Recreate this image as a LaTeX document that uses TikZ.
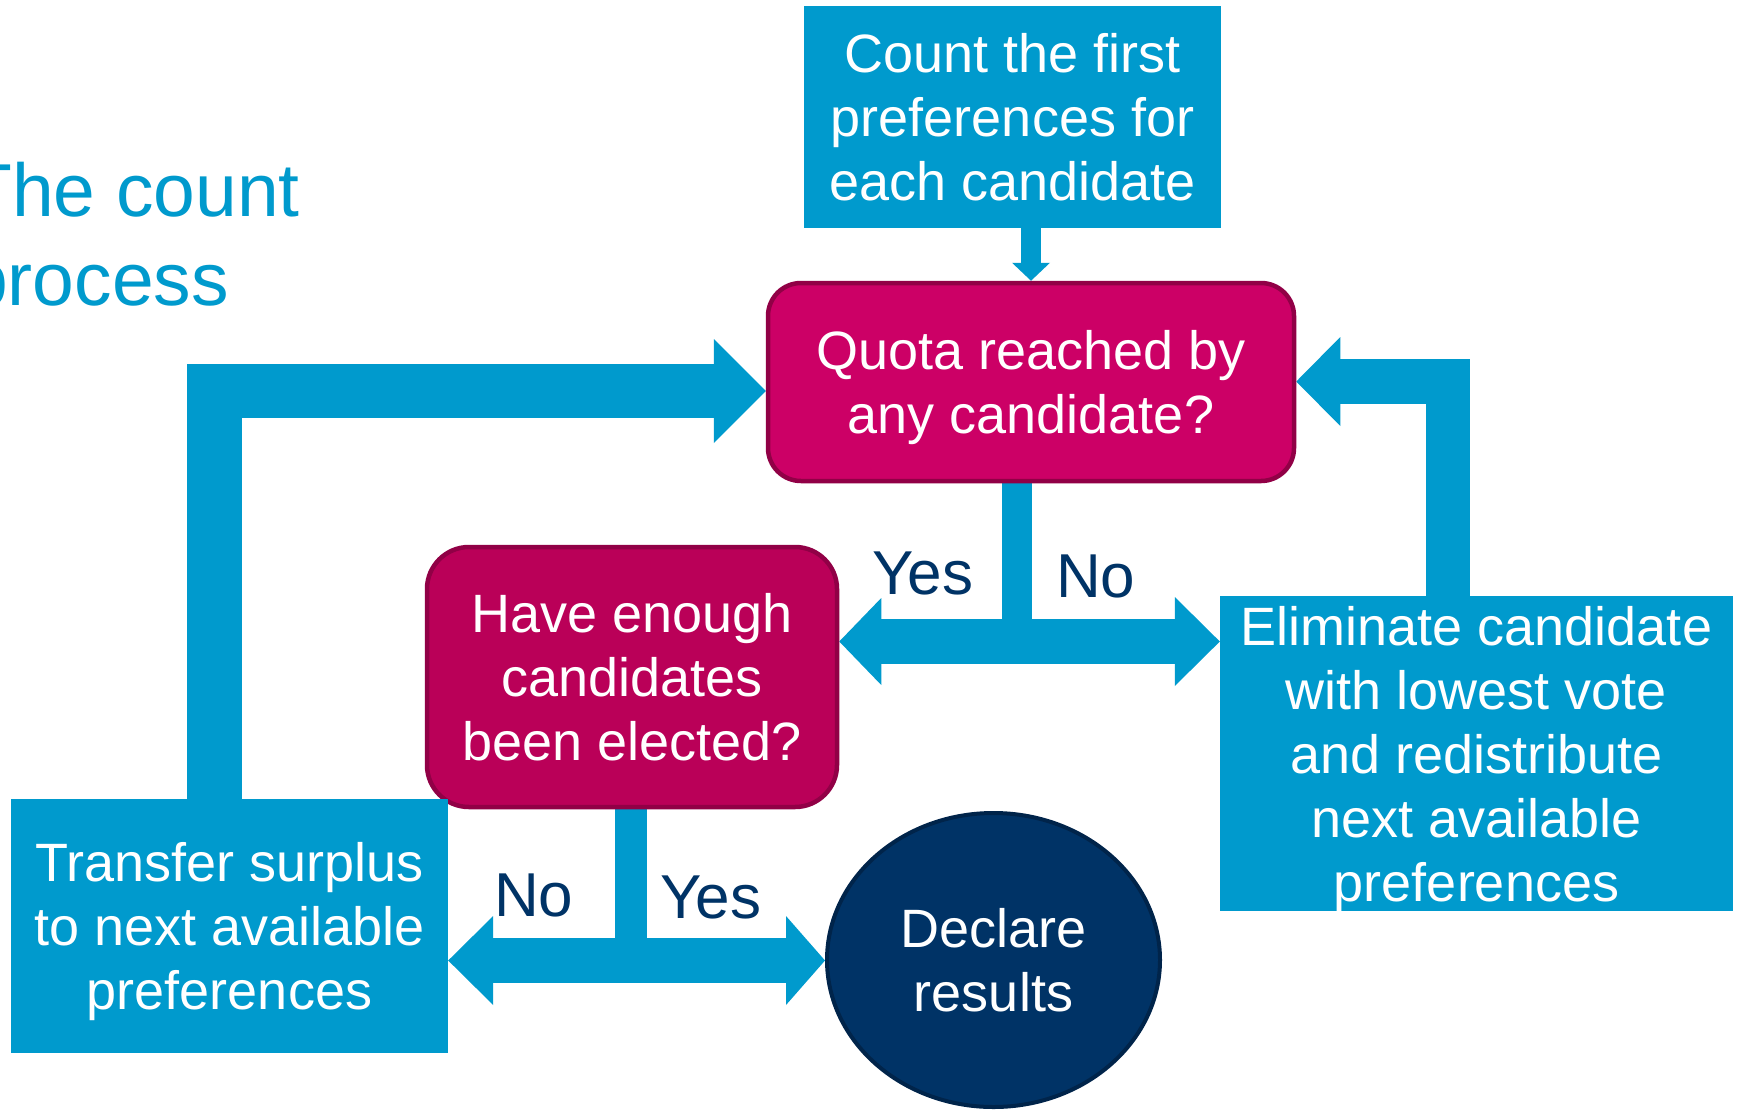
\documentclass[tikz,border=0pt]{standalone}
\usepackage{fontspec}
\setmainfont{Liberation Sans}
\usetikzlibrary{shapes.geometric,calc}
\pgfdeclarelayer{background}
\pgfsetlayers{background,main}
\definecolor{flowc}{RGB}{0,154,205}
\definecolor{navy}{RGB}{0,51,102}
\definecolor{navyline}{RGB}{0,36,74}
\definecolor{quotac}{RGB}{204,0,102}
\definecolor{havec}{RGB}{186,0,88}
\definecolor{magline}{RGB}{145,0,70}
\newcommand\ls{\rule[-12pt]{0pt}{63pt}}
\begin{document}
\begin{tikzpicture}[x=1pt,y=-1pt,
  boxtext/.style={font=\fontsize{54}{64}\selectfont, text=white, align=center, inner sep=0pt},
  cyanbox/.style={rectangle, fill=flowc, inner sep=0pt},
  quotabox/.style={boxtext, rectangle, rounded corners=33pt, fill=quotac, draw=magline, line width=4.5pt},
  havebox/.style={boxtext, rectangle, rounded corners=42pt, fill=havec, draw=magline, line width=4.5pt},
  declbox/.style={boxtext, ellipse, fill=navy, draw=navyline, line width=4pt},
  lbl/.style={font=\fontsize{62}{70}\selectfont, text=navy, inner sep=0pt},
  titletext/.style={font=\fontsize{75}{89}\selectfont, text=flowc, inner sep=0pt},
  bar/.style={draw=flowc, line cap=butt, line join=miter},
  head/.style={fill=flowc}
]
\useasboundingbox (0,0) rectangle (1739,1109);
\clip (0,0) rectangle (1739,1109);

% title
\node[titletext, anchor=base west] (title1) at (-34,216) {The count};
\node[titletext, anchor=base west] (title2) at (-34,305) {process};

% boxes
\node[cyanbox, boxtext, minimum width=417pt, minimum height=222pt] (count) at (1012.5,117)
  {\ls Count the first\\ \ls preferences for\\ \ls each candidate};
\node[quotabox, minimum width=526pt, minimum height=198pt] (quota) at (1031,382)
  {\ls Quota reached by\\ \ls any candidate?};
\node[havebox, minimum width=410pt, minimum height=260pt] (have) at (632,677)
  {\ls Have enough\\ \ls candidates\\ \ls been elected?};
\node[cyanbox, boxtext, minimum width=437pt, minimum height=254pt] (transfer) at (229.5,926)
  {\ls Transfer surplus\\ \ls to next available\\ \ls preferences};
\node[cyanbox, minimum width=513pt, minimum height=315pt] (elim) at (1476.5,753.5) {};
\node[boxtext] (elimtext) at (elim.center)
  {\ls Eliminate candidate\\ \ls with lowest vote\\ \ls and redistribute\\ \ls next available\\ \ls preferences};
\node[declbox, minimum width=333pt, minimum height=294pt] (declare) at (993.5,960)
  {\ls Declare\\ \ls results};

% labels
\node[lbl, anchor=base west] (yes1) at (872,594) {Yes};
\node[lbl, anchor=base west] (no1) at (1056,597) {No};
\node[lbl, anchor=base west] (no2) at (494,916) {No};
\node[lbl, anchor=base west] (yes2) at (660,918) {Yes};

% connector reference lines
\coordinate (tx) at (1031,0);
\coordinate (lx) at (214.5,0);
\coordinate (ly) at (0,391);
\coordinate (rx) at (1448,0);
\coordinate (ry) at (0,381.5);
\coordinate (mx) at (1017,0);
\coordinate (my) at (0,641.5);
\coordinate (bx) at (631,0);
\coordinate (by) at (0,960.5);

\begin{pgfonlayer}{background}
  \fill[white] (0,0) rectangle (1739,1109);
  % count -> quota
  \draw[bar, line width=20pt] (count.south -| tx) -- ($(quota.north -| tx)+(0,-17)$);
  \fill[head] (quota.north -| tx) -- ++(-19,-18) -- ++(38,0) -- cycle;
  % transfer -> quota (left loop)
  \draw[bar, line width=54.5pt] (transfer.north -| lx) |- ($(quota.west |- ly)+(-51,0)$);
  \fill[head] (quota.west |- ly) -- ++(-52,-52) -- ++(0,104) -- cycle;
  % elim -> quota (right loop)
  \draw[bar, line width=44.5pt] (elim.north -| rx) |- ($(quota.east |- ry)+(43,0)$);
  \fill[head] (quota.east |- ry) -- ++(44,-44.5) -- ++(0,89) -- cycle;
  % quota -> have / elim
  \draw[bar, line width=30pt] (quota.south -| mx) -- (mx |- my);
  \draw[bar, line width=45pt] ($(have.east |- my)+(41,0)$) -- ($(elim.west |- my)+(-44,0)$);
  \fill[head] (have.east |- my) -- ++(42,-43.5) -- ++(0,87) -- cycle;
  \fill[head] (elim.west |- my) -- ++(-45,-44.5) -- ++(0,89) -- cycle;
  % have -> transfer / declare
  \draw[bar, line width=32pt] (have.south -| bx) -- (bx |- by);
  \draw[bar, line width=45pt] ($(transfer.east |- by)+(44,0)$) -- ($(declare.west |- by)+(-38,0)$);
  \fill[head] (transfer.east |- by) -- ++(45,-44.5) -- ++(0,89) -- cycle;
  \fill[head] (declare.west |- by) -- ++(-39,-44.5) -- ++(0,89) -- cycle;
\end{pgfonlayer}
\end{tikzpicture}
\end{document}
